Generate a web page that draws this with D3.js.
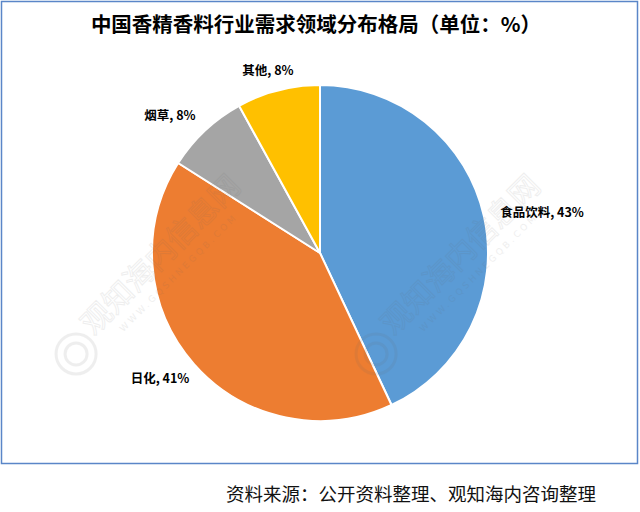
<!DOCTYPE html>
<html>
<head>
<meta charset="utf-8">
<script src="https://cdn.jsdelivr.net/npm/d3@7"></script>
<style>
html,body{margin:0;padding:0;background:#fff;}
svg{display:block;}
</style>
</head>
<body>
<svg id="chart" width="640" height="512"></svg>
<script>
const categories = ["食品饮料", "日化", "烟草", "其他"];
const values = [43, 41, 8, 8];
const colors = ["#5B9BD5", "#ED7D31", "#A5A5A5", "#FFC000"];
const title = "中国香精香料行业需求领域分布格局（单位：%）";
const source = "资料来源：公开资料整理、观知海内咨询整理";

const svg = d3.select("#chart");
const font = "'Noto Sans CJK SC', 'Microsoft YaHei', sans-serif";

// frame
svg.append("rect").attr("x", 1.5).attr("y", 1.5).attr("width", 636).attr("height", 462)
  .attr("fill", "#fff").attr("stroke", "#5A86C8").attr("stroke-width", 1.5);

svg.append("text").attr("x", 316).attr("y", 32).attr("text-anchor", "middle")
  .attr("font-family", font).attr("font-weight", "bold").attr("font-size", 20.5)
  .attr("fill", "#000").text(title);

const cx = 320, cy = 253, r = 168;
const data = categories.map((c, i) => ({cat: c, val: values[i], color: colors[i]}));
const pie = d3.pie().sort(null).value(d => d.val);
const arc = d3.arc().innerRadius(0).outerRadius(r);
const arcs = pie(data);

const g = svg.append("g").attr("transform", `translate(${cx},${cy})`);
g.selectAll("path").data(arcs).enter().append("path")
  .attr("d", arc).attr("fill", d => d.data.color)
  .attr("stroke", "#fff").attr("stroke-width", 2).attr("stroke-linejoin", "round");

const labelPos = [
  {x: 542, y: 217, anchor: "middle"},
  {x: 160, y: 383, anchor: "middle"},
  {x: 170, y: 120, anchor: "middle"},
  {x: 268, y: 75, anchor: "middle"}
];
svg.selectAll("text.lbl").data(arcs).enter().append("text").attr("class", "lbl")
  .attr("x", (d, i) => labelPos[i].x).attr("y", (d, i) => labelPos[i].y)
  .attr("text-anchor", (d, i) => labelPos[i].anchor)
  .attr("font-family", font).attr("font-weight", "bold").attr("font-size", 12.5)
  .attr("fill", "#000")
  .text(d => `${d.data.cat}, ${d.data.val}%`);

// watermarks
[[168, 262], [468, 262]].forEach(([x, y]) => {
  const w = svg.append("g").attr("transform", `translate(${x},${y}) rotate(-45)`).attr("opacity", 0.1);
  w.append("text").attr("text-anchor", "middle").attr("y", 0)
    .attr("font-family", font).attr("font-size", 30).attr("fill", "none")
    .attr("stroke", "#666").attr("stroke-width", 1).text("观知海内信息网");
  w.append("text").attr("text-anchor", "middle").attr("y", 18)
    .attr("font-family", "DejaVu Sans, sans-serif").attr("font-size", 9).attr("letter-spacing", 3)
    .attr("fill", "#666").text("WWW.GQSHNEGQB.COM");
  w.append("circle").attr("cx", -130).attr("cy", 0).attr("r", 20).attr("fill", "none").attr("stroke", "#666").attr("stroke-width", 3);
  w.append("circle").attr("cx", -130).attr("cy", 0).attr("r", 11).attr("fill", "none").attr("stroke", "#666").attr("stroke-width", 3);
});

svg.append("text").attr("x", 596).attr("y", 501).attr("text-anchor", "end")
  .attr("font-family", font).attr("font-size", 18.5).attr("fill", "#111").text(source);
</script>
</body>
</html>
